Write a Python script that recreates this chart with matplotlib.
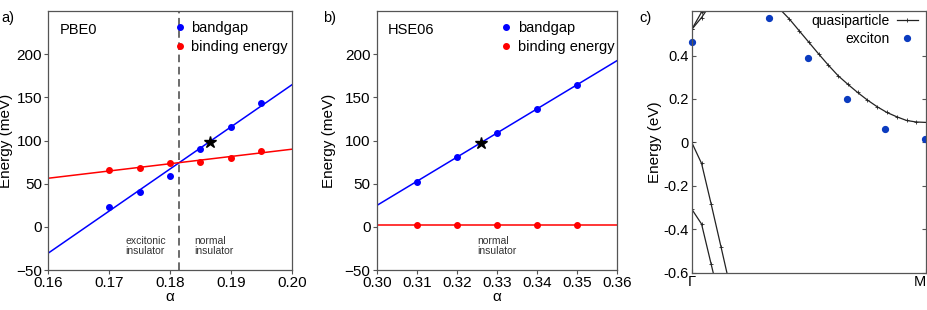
import numpy as np
import matplotlib
matplotlib.use("Agg")
import matplotlib.pyplot as plt

plt.rcParams['font.family'] = ['Liberation Sans', 'DejaVu Sans']

# ---- Panel a: PBE0 ----
a_alpha = [0.170, 0.175, 0.180, 0.185, 0.190, 0.195]
a_gap = [23.5, 40.9, 59.4, 90.3, 115.4, 143.2]
a_bind = [65.6, 68.3, 73.7, 74.9, 79.5, 88.3]
a_fit_x = [0.16, 0.20]
a_gap_fit = [-30.4, 164.4]
a_bind_fit = [56.3, 89.9]
a_star = (0.1865, 98.0)
a_cross = 0.1814

# ---- Panel b: HSE06 ----
b_alpha = [0.31, 0.32, 0.33, 0.34, 0.35]
b_gap = [52.4, 80.6, 108.4, 136.6, 164.7]
b_bind = [2.3, 2.3, 2.3, 2.3, 2.3]
b_fit_x = [0.30, 0.36]
b_gap_fit = [24.7, 192.5]
b_bind_fit = [2.3, 2.3]
b_star = (0.326, 97.0)

# ---- Panel c: band structure Gamma -> M ----
cb_k = [0.333, 0.375, 0.417, 0.458, 0.500, 0.542, 0.583, 0.625, 0.667, 0.708,
        0.750, 0.792, 0.833, 0.875, 0.917, 0.958, 1.000]
cb_e = [0.67, 0.615, 0.568, 0.515, 0.461, 0.407, 0.356, 0.307, 0.267, 0.230,
        0.195, 0.164, 0.138, 0.118, 0.101, 0.094, 0.092]
up1_k = [0.0, 0.042, 0.083]
up1_e = [0.52, 0.60, 0.68]
up2_k = [0.0, 0.042, 0.083]
up2_e = [0.52, 0.575, 0.64]
vb1_k = [0.0, 0.042, 0.083, 0.125, 0.167]
vb1_e = [0.0, -0.097, -0.284, -0.481, -0.68]
vb2_k = [0.0, 0.042, 0.083, 0.125]
vb2_e = [-0.307, -0.376, -0.561, -0.75]
ex_k = [0.0, 0.331, 0.495, 0.661, 0.826, 0.995]
ex_e = [0.463, 0.574, 0.388, 0.200, 0.061, 0.015]

fig = plt.figure(figsize=(9.27, 3.10), dpi=100)

spine_col = '#555555'
fs = 10.5
tfs = 11

def style_ab(ax, ylab_x):
    for s in ax.spines.values():
        s.set_color(spine_col)
        s.set_linewidth(0.9)
    ax.tick_params(direction='out', length=3, width=0.8, color=spine_col,
                   labelsize=tfs, pad=1.5)
    ax.set_ylim(-50, 250)
    ax.set_yticks([-50, 0, 50, 100, 150, 200])
    ax.set_xlabel('α', fontsize=tfs, labelpad=0)
    ax.set_ylabel('Energy (meV)', fontsize=11)
    ax.yaxis.set_label_coords(ylab_x, 0.5)

leg_kw = dict(loc='upper right', fontsize=fs, frameon=False, handlelength=0.6,
              handletextpad=0.5, borderaxespad=0.0, labelspacing=0.35,
              borderpad=0.0)

# Panel a
ax1 = fig.add_axes([0.0521, 0.129, 0.2626, 0.8355])
ax1.plot(a_fit_x, a_gap_fit, color='#0000ff', lw=1.1)
ax1.plot(a_fit_x, a_bind_fit, color='#ff0000', lw=1.1)
ax1.plot(a_alpha, a_gap, 'o', color='#0000ff', ms=4, label='bandgap')
ax1.plot(a_alpha, a_bind, 'o', color='#ff0000', ms=4, label='binding energy')
ax1.plot([a_star[0]], [a_star[1]], '*', color='black', ms=9)
ax1.axvline(a_cross, color='#444444', ls=(0, (5, 3)), lw=1.1)
ax1.set_xlim(0.16, 0.20)
ax1.set_xticks([0.16, 0.17, 0.18, 0.19, 0.20])
ax1.set_xticklabels(['0.16', '0.17', '0.18', '0.19', '0.20'])
style_ab(ax1, -0.145)
ax1.text(0.048, 0.955, 'PBE0', transform=ax1.transAxes, fontsize=fs, va='top')
ax1.text(0.316, 0.13, 'excitonic\ninsulator', transform=ax1.transAxes,
         fontsize=7.5, color='#333333', va='top', linespacing=1.0)
ax1.text(0.598, 0.13, 'normal\ninsulator', transform=ax1.transAxes,
         fontsize=7.5, color='#333333', va='top', linespacing=1.0)
ax1.legend(bbox_to_anchor=(0.985, 0.96), **leg_kw)
fig.text(0.002, 0.965, 'a)', fontsize=fs, va='top')

# Panel b
ax2 = fig.add_axes([0.4064, 0.129, 0.2592, 0.8355])
ax2.plot(b_fit_x, b_gap_fit, color='#0000ff', lw=1.1)
ax2.plot(b_fit_x, b_bind_fit, color='#ff0000', lw=1.1)
ax2.plot(b_alpha, b_gap, 'o', color='#0000ff', ms=4, label='bandgap')
ax2.plot(b_alpha, b_bind, 'o', color='#ff0000', ms=4, label='binding energy')
ax2.plot([b_star[0]], [b_star[1]], '*', color='black', ms=9)
ax2.set_xlim(0.30, 0.36)
ax2.set_xticks([0.30, 0.31, 0.32, 0.33, 0.34, 0.35, 0.36])
ax2.set_xticklabels(['0.30', '0.31', '0.32', '0.33', '0.34', '0.35', '0.36'])
style_ab(ax2, -0.171)
ax2.text(0.047, 0.955, 'HSE06', transform=ax2.transAxes, fontsize=fs, va='top')
ax2.text(0.42, 0.13, 'normal\ninsulator', transform=ax2.transAxes,
         fontsize=7.5, color='#333333', va='top', linespacing=1.0)
ax2.legend(bbox_to_anchor=(0.99, 0.96), **leg_kw)
fig.text(0.348, 0.965, 'b)', fontsize=fs, va='top')

# Panel c
ax3 = fig.add_axes([0.7462, 0.1203, 0.2527, 0.8442])
for k, e in [(up1_k, up1_e), (up2_k, up2_e), (vb1_k, vb1_e), (vb2_k, vb2_e)]:
    ax3.plot(k, e, color='#222222', lw=0.9, marker='+', ms=3, mew=0.6)
ax3.plot(cb_k, cb_e, color='#222222', lw=0.9, marker='+', ms=3, mew=0.6,
         label='quasiparticle')
ax3.plot(ex_k, ex_e, 'o', color='#0b3bbf', ms=4.2, label='exciton', clip_on=False)
ax3.set_xlim(0, 1)
ax3.set_ylim(-0.6, 0.605)
ax3.set_xticks([0, 1])
ax3.set_xticklabels(['Γ', 'M'])
ax3.get_xticklabels()[1].set_horizontalalignment('right')
ax3.set_yticks([-0.6, -0.4, -0.2, 0, 0.2, 0.4])
ax3.set_yticklabels(['-0.6', '-0.4', '-0.2', '0', '0.2', '0.4'])
for s in ax3.spines.values():
    s.set_color(spine_col)
    s.set_linewidth(0.9)
ax3.tick_params(direction='in', length=3, width=0.8, color=spine_col,
                labelsize=fs, pad=2, right=True, top=False)
ax3.set_ylabel('Energy (eV)', fontsize=fs + 0.5, labelpad=1)
ax3.legend(loc='upper right', bbox_to_anchor=(0.965, 0.99), fontsize=fs - 0.5,
           frameon=False, markerfirst=False, handlelength=1.5,
           handletextpad=0.5, borderaxespad=0.0, labelspacing=0.3,
           borderpad=0.0)
fig.text(0.690, 0.965, 'c)', fontsize=fs, va='top')

fig.savefig('out.png', dpi=100)
